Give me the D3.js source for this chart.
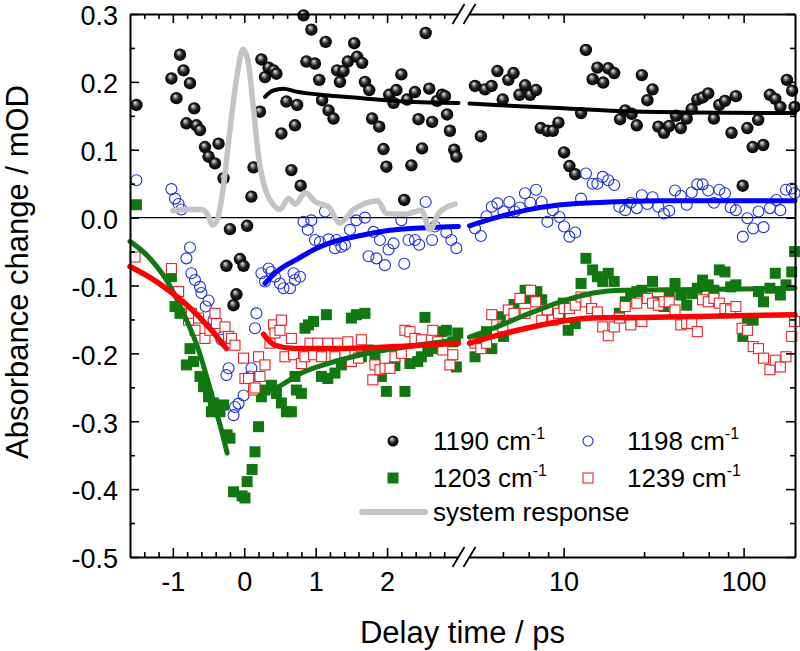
<!DOCTYPE html>
<html><head><meta charset="utf-8">
<script src="https://cdn.jsdelivr.net/npm/d3@7"></script>
<style>
body{margin:0;background:#fff}
svg{display:block}
text{font-family:"Liberation Sans",Arial,sans-serif;fill:#000}
</style>
</head><body>
<svg id="c" width="800" height="651"></svg>
<script>
// ---------- data (time in ps, absorbance change in mOD) ----------
const s1190 = [[-1.51,0.166],[-1.02,0.205],[-0.95,0.176],[-0.90,0.240],[-0.85,0.217],[-0.81,0.139],[-0.76,0.198],[-0.70,0.161],[-0.67,0.136],[-0.62,0.129],[-0.55,0.104],[-0.50,0.090],[-0.41,0.080],[-0.36,0.109],[-0.29,0.058],[-0.25,-0.071],[-0.20,-0.017],[-0.15,-0.129],[-0.11,-0.113],[-0.06,-0.061],[-0.01,-0.071],[0.04,-0.012],[0.10,0.031],[0.13,0.074],[0.22,0.156],[0.24,0.233],[0.29,0.207],[0.34,0.221],[0.41,0.217],[0.45,0.212],[0.52,0.124],[0.59,0.171],[0.66,0.070],[0.71,0.136],[0.74,0.166],[0.79,0.047],[0.83,0.298],[0.87,0.230],[0.94,0.277],[0.99,0.227],[1.05,0.203],[1.09,0.173],[1.14,0.259],[1.18,0.158],[1.25,0.146],[1.30,0.217],[1.34,0.200],[1.39,0.216],[1.45,0.230],[1.54,0.257],[1.58,0.237],[1.65,0.228],[1.69,0.200],[1.75,0.188],[1.79,0.146],[1.89,0.134],[1.95,0.101],[1.99,0.075],[2.03,0.181],[2.09,0.169],[2.13,0.188],[2.20,0.211],[2.24,0.026],[2.28,0.174],[2.34,0.077],[2.39,0.185],[2.44,0.145],[2.49,0.102],[2.54,0.272],[2.59,0.190],[2.63,0.141],[2.70,0.172],[2.77,0.181],[2.81,0.179],[2.84,0.152],[2.88,0.128],[2.94,0.100],[2.97,0.090],
[3.22,0.194],[3.47,0.120],[3.66,0.189],[3.98,0.194],[4.29,0.216],[4.59,0.174],[4.93,0.203],[5.27,0.213],[5.68,0.181],[6.11,0.195],[6.52,0.181],[7.03,0.188],[7.47,0.132],[8.13,0.128],[8.71,0.128],[9.36,0.140],[10.06,0.096],[10.77,0.076],[11.6,0.064],[12.5,0.154],[13.3,0.247],[14.5,0.204],[15.4,0.221],[16.6,0.199],[17.7,0.220],[19.1,0.213],[20.6,0.145],[22.0,0.158],[23.9,0.153],[25.5,0.136],[27.2,0.210],[29.2,0.173],[31.2,0.189],[33.6,0.134],[36.1,0.125],[38.6,0.135],[42.1,0.150],[44.8,0.132],[48.3,0.146],[51.5,0.160],[55.3,0.174],[59.2,0.177],[63.6,0.183],[68.4,0.146],[73.3,0.166],[78.8,0.172],[85.7,0.125],[90.6,0.179],[98.9,0.047],[104.9,0.132],[112.3,0.104],[120.5,0.144],[128.5,0.107],[140,0.181],[150,0.175],[160,0.163],[174,0.203],[186,0.187],[192,0.163]];

const s1198 = [[-1.51,0.055],[-1.02,0.042],[-0.97,0.028],[-0.92,0.020],[-0.88,0.012],[-0.81,-0.060],[-0.76,-0.044],[-0.74,-0.082],[-0.69,-0.092],[-0.62,-0.102],[-0.60,-0.111],[-0.54,-0.131],[-0.50,-0.122],[-0.43,-0.151],[-0.39,-0.163],[-0.32,-0.180],[-0.25,-0.232],[-0.22,-0.222],[-0.15,-0.291],[-0.13,-0.279],[-0.08,-0.274],[-0.01,-0.262],[0.08,-0.234],[0.10,-0.222],[0.15,-0.163],[0.17,-0.141],[0.24,-0.082],[0.29,-0.094],[0.34,-0.075],[0.38,-0.080],[0.43,-0.087],[0.50,-0.097],[0.55,-0.104],[0.64,-0.104],[0.69,-0.082],[0.71,-0.092],[0.78,-0.087],[0.83,-0.006],[0.89,-0.018],[0.94,-0.004],[0.99,-0.033],[1.06,-0.036],[1.13,0.009],[1.18,-0.032],[1.27,-0.045],[1.29,-0.033],[1.36,-0.043],[1.41,-0.040],[1.48,-0.018],[1.57,-0.004],[1.69,0.000],[1.74,-0.057],[1.81,-0.021],[1.85,-0.060],[1.90,-0.033],[1.97,-0.070],[2.02,-0.047],[2.09,-0.038],[2.20,-0.004],[2.24,-0.068],[2.30,-0.033],[2.39,-0.033],[2.45,-0.040],[2.54,0.023],[2.63,-0.033],[2.67,-0.013],[2.83,-0.022],[2.90,-0.033],[2.97,-0.045],
[3.22,-0.016],[3.47,-0.027],[3.73,0.002],[3.99,0.016],[4.29,0.021],[4.63,0.009],[4.99,0.023],[5.36,0.009],[5.71,0.015],[6.10,0.036],[6.52,0.022],[7.03,0.041],[7.55,0.023],[8.13,-0.006],[8.71,0.011],[9.48,0.001],[10.06,-0.013],[10.77,-0.028],[11.6,-0.022],[12.5,0.028],[13.3,0.065],[14.5,0.050],[15.4,0.050],[16.5,0.060],[17.7,0.055],[19.1,0.048],[20.4,0.016],[22.0,0.011],[23.6,0.022],[25.5,0.014],[27.2,0.033],[29.2,0.020],[31.2,0.030],[33.6,0.016],[36.1,0.006],[38.6,0.010],[41.6,0.040],[44.8,0.032],[48.3,0.019],[51.5,0.037],[55.3,0.049],[59.2,0.049],[63.6,0.040],[68.4,0.022],[73.3,0.041],[78.8,0.036],[84.7,0.015],[90.6,0.011],[99,-0.028],[105,-0.001],[113,-0.016],[121,0.009],[129,-0.014],[140,0.014],[152,0.026],[160,0.011],[172,0.041],[185,0.043],[192,0.036]];

const s1203 = [[-1.51,0.019],[-1.02,-0.087],[-0.97,-0.131],[-0.92,-0.109],[-0.90,-0.141],[-0.81,-0.217],[-0.76,-0.193],[-0.71,-0.212],[-0.62,-0.234],[-0.57,-0.249],[-0.50,-0.264],[-0.46,-0.286],[-0.43,-0.273],[-0.36,-0.279],[-0.34,-0.286],[-0.29,-0.276],[-0.24,-0.320],[-0.20,-0.325],[-0.15,-0.404],[-0.03,-0.410],[0.01,-0.413],[0.04,-0.389],[0.11,-0.371],[0.15,-0.345],[0.20,-0.308],[0.24,-0.264],[0.29,-0.254],[0.38,-0.247],[0.45,-0.259],[0.52,-0.273],[0.59,-0.286],[0.66,-0.286],[0.71,-0.234],[0.73,-0.254],[0.80,-0.259],[0.85,-0.163],[0.90,-0.158],[0.97,-0.153],[1.08,-0.234],[1.15,-0.143],[1.17,-0.237],[1.27,-0.229],[1.36,-0.217],[1.41,-0.212],[1.50,-0.148],[1.57,-0.143],[1.64,-0.205],[1.69,-0.141],[1.73,-0.195],[1.83,-0.205],[1.92,-0.234],[1.99,-0.256],[2.11,-0.218],[2.25,-0.256],[2.32,-0.215],[2.43,-0.212],[2.48,-0.205],[2.53,-0.147],[2.57,-0.197],[2.64,-0.193],[2.76,-0.168],[2.83,-0.166],[2.92,-0.183],[2.97,-0.220],[2.99,-0.170],
[3.22,-0.205],[3.45,-0.180],[3.73,-0.168],[3.99,-0.193],[4.45,-0.146],[4.64,-0.175],[5.3,-0.128],[6.11,-0.107],[6.5,-0.119],[7.1,-0.109],[7.56,-0.121],[8.1,-0.146],[9.56,-0.143],[9.97,-0.126],[10.6,-0.166],[11.6,-0.156],[12.5,-0.097],[13.3,-0.060],[14.5,-0.077],[15.4,-0.087],[16.5,-0.094],[17.7,-0.082],[19.1,-0.094],[20.4,-0.141],[22.0,-0.124],[23.6,-0.114],[25.5,-0.109],[27.2,-0.107],[31.2,-0.094],[33.6,-0.124],[36.1,-0.131],[38.6,-0.112],[41.6,-0.097],[44.8,-0.114],[48.3,-0.129],[51.5,-0.112],[55.3,-0.104],[59.2,-0.092],[63.6,-0.099],[68.4,-0.107],[73.3,-0.077],[78.8,-0.080],[84.7,-0.102],[90.6,-0.099],[99,-0.175],[105,-0.153],[113,-0.151],[121,-0.109],[129,-0.124],[140,-0.104],[150,-0.082],[160,-0.114],[172,-0.099],[185,-0.080],[192,-0.050]];

const s1239 = [[-1.53,-0.058],[-1.02,-0.075],[-0.92,-0.109],[-0.78,-0.151],[-0.74,-0.141],[-0.69,-0.166],[-0.64,-0.148],[-0.55,-0.178],[-0.48,-0.166],[-0.41,-0.141],[-0.39,-0.156],[-0.27,-0.161],[-0.22,-0.175],[-0.18,-0.178],[-0.13,-0.188],[-0.01,-0.207],[0.01,-0.237],[0.06,-0.237],[0.13,-0.254],[0.15,-0.251],[0.20,-0.205],[0.22,-0.234],[0.29,-0.217],[0.36,-0.185],[0.41,-0.158],[0.43,-0.170],[0.50,-0.166],[0.52,-0.151],[0.57,-0.205],[0.66,-0.178],[0.69,-0.202],[0.80,-0.215],[0.85,-0.205],[0.92,-0.185],[0.97,-0.202],[1.03,-0.185],[1.08,-0.205],[1.17,-0.185],[1.27,-0.205],[1.31,-0.185],[1.41,-0.202],[1.45,-0.183],[1.50,-0.212],[1.60,-0.207],[1.64,-0.180],[1.80,-0.239],[1.83,-0.217],[1.90,-0.224],[1.97,-0.222],[2.04,-0.222],[2.11,-0.205],[2.20,-0.200],[2.25,-0.166],[2.32,-0.168],[2.39,-0.178],[2.48,-0.180],[2.64,-0.166],[2.71,-0.183],[2.78,-0.195],[2.88,-0.217],[2.92,-0.202],
[3.22,-0.185],[3.47,-0.193],[3.73,-0.185],[3.99,-0.143],[4.25,-0.158],[4.59,-0.161],[4.93,-0.136],[5.3,-0.141],[5.72,-0.119],[6.11,-0.141],[6.55,-0.107],[7.0,-0.124],[7.56,-0.151],[8.13,-0.136],[8.71,-0.151],[9.36,-0.141],[10.06,-0.134],[10.77,-0.134],[11.6,-0.129],[12.5,-0.117],[13.3,-0.124],[14.3,-0.134],[15.4,-0.139],[16.5,-0.161],[17.7,-0.174],[19.1,-0.161],[20.4,-0.148],[22.0,-0.131],[23.6,-0.158],[25.5,-0.126],[27.2,-0.153],[29.2,-0.119],[31.2,-0.126],[33.6,-0.129],[36.1,-0.124],[38.6,-0.124],[41.6,-0.136],[44.8,-0.158],[48.3,-0.156],[51.5,-0.156],[55.3,-0.168],[59.2,-0.121],[63.6,-0.124],[68.4,-0.119],[73.3,-0.126],[78.8,-0.134],[84.7,-0.136],[90.6,-0.131],[98,-0.163],[105,-0.166],[113,-0.190],[121,-0.193],[129,-0.207],[140,-0.224],[150,-0.210],[160,-0.220],[172,-0.205],[185,-0.175],[192,-0.153]];

// fitted curves (linear-time part and log-time part)
const fit1190Lin = [[0.29,0.178],[0.40,0.187],[0.55,0.190],[0.71,0.186],[1.18,0.180],[1.65,0.176],[2.11,0.172],[3.0,0.169]];
const fit1190Log = [[3,0.168],[5,0.165],[10,0.161],[20,0.157],[50,0.155],[193,0.154]];
const fit1198Lin = [[0.29,-0.097],[0.45,-0.080],[0.57,-0.071],[0.71,-0.063],[1.0,-0.046],[1.18,-0.038],[1.65,-0.026],[2.11,-0.018],[3.0,-0.013]];
const fit1198Log = [[3,-0.012],[4.07,-0.001],[6.2,0.011],[9.6,0.019],[18,0.023],[34,0.025],[193,0.025]];
const fit1203Pre = [[-1.6,-0.035],[-1.34,-0.058],[-1.06,-0.097],[-0.83,-0.146],[-0.64,-0.195],[-0.50,-0.244],[-0.41,-0.279],[-0.32,-0.313],[-0.24,-0.347]];
const fit1203Lin = [[0.22,-0.262],[0.48,-0.249],[0.80,-0.229],[1.17,-0.215],[1.64,-0.202],[2.11,-0.193],[3.0,-0.180]];
const fit1203Log = [[3,-0.176],[4.07,-0.163],[6.2,-0.143],[9.6,-0.124],[14.6,-0.111],[22,-0.107],[52.6,-0.106],[193,-0.104]];
const fit1239Pre = [[-1.6,-0.072],[-1.34,-0.087],[-1.06,-0.107],[-0.78,-0.131],[-0.50,-0.161],[-0.25,-0.193]];
const fit1239Lin = [[0.27,-0.172],[0.43,-0.188],[0.71,-0.193],[1.17,-0.193],[2.11,-0.190],[3.0,-0.185]];
const fit1239Log = [[3,-0.185],[4.07,-0.175],[6.2,-0.163],[9.6,-0.153],[14.6,-0.148],[27,-0.147],[193,-0.143]];
const sysResp = [[-1.0,0.010],[-0.8,0.012],[-0.6,0.012],[-0.5,0.002],[-0.45,-0.011],[-0.38,-0.004],[-0.3,0.040],[-0.2,0.130],[-0.1,0.210],[-0.02,0.248],[0.05,0.232],[0.12,0.170],[0.2,0.090],[0.3,0.040],[0.4,0.020],[0.5,0.012],[0.62,0.028],[0.72,0.020],[0.85,0.037],[1.0,0.023],[1.18,0.016],[1.34,-0.008],[1.52,0.011],[1.69,0.021],[1.87,0.025],[1.99,0.006],[2.25,0.005],[2.48,0.011],[2.6,-0.018],[2.72,0.006],[2.95,0.020]];

// axis ticks
const xMajorLin = [-1,0,1,2];
const xMinorLin = [-1.4,-1.2,-0.8,-0.6,-0.4,-0.2,0.2,0.4,0.6,0.8,1.2,1.4,1.6,1.8,2.2,2.4,2.6,2.8];
const xMajorLog = [10,100];
const xMinorLog = [4.6,6.4,8.2,28,46,64,82];
const yMajor = [-0.5,-0.4,-0.3,-0.2,-0.1,0,0.1,0.2,0.3];
const yMinor = [-0.45,-0.35,-0.25,-0.15,-0.05,0.05,0.15,0.25];
const legendLabels = ["1190","1198","1203","1239","system response"];

// ---------- scales ----------
const L = 130, R = 795, T = 14, B = 557;
const xLin = d3.scaleLinear().domain([-1.6,3]).range([L,458.5]);
const xLog = d3.scaleLog().domain([3,193]).range([469.5,R]);
const y = d3.scaleLinear().domain([-0.5,0.3]).range([B,T]);
const X = t => t <= 3 ? xLin(t) : xLog(t);

const svg = d3.select("#c");
const defs = svg.append("defs");
const g1 = defs.append("radialGradient").attr("id","ball").attr("cx","0.5").attr("cy","0.5").attr("r","0.5").attr("fx","0.38").attr("fy","0.3");
g1.append("stop").attr("offset","0%").attr("stop-color","#f4f4f4");
g1.append("stop").attr("offset","22%").attr("stop-color","#9a9a9a");
g1.append("stop").attr("offset","55%").attr("stop-color","#222");
g1.append("stop").attr("offset","100%").attr("stop-color","#000");

const GREEN = "#117811", BLUE = "#1f2fd6", RED = "#e8232a", GREY = "#c4c4c4";

// zero line
svg.append("line").attr("x1",L).attr("x2",R).attr("y1",y(0)).attr("y2",y(0)).attr("stroke","#000").attr("stroke-width",1.2);

// ---------- scatter ----------
svg.append("g").selectAll("circle").data(s1190).join("circle")
  .attr("cx",d=>X(d[0])).attr("cy",d=>y(d[1])).attr("r",6.2).attr("fill","url(#ball)");
svg.append("g").selectAll("circle").data(s1198).join("circle")
  .attr("cx",d=>X(d[0])).attr("cy",d=>y(d[1])).attr("r",5.5).attr("fill","none").attr("stroke",BLUE).attr("stroke-width",1.1);
svg.append("g").selectAll("rect").data(s1203).join("rect")
  .attr("x",d=>X(d[0])-5.5).attr("y",d=>y(d[1])-5.5).attr("width",11).attr("height",11).attr("fill",GREEN);
svg.append("g").selectAll("rect").data(s1239).join("rect")
  .attr("x",d=>X(d[0])-5).attr("y",d=>y(d[1])-5).attr("width",10).attr("height",10).attr("fill","#fff").attr("stroke",RED).attr("stroke-width",1.1);

// ---------- fits ----------
const lineLin = d3.line().x(d=>xLin(d[0])).y(d=>y(d[1])).curve(d3.curveMonotoneX);
const lineLog = d3.line().x(d=>xLog(d[0])).y(d=>y(d[1])).curve(d3.curveMonotoneX);
function fit(data, gen, color, w){
  svg.append("path").attr("d",gen(data)).attr("fill","none").attr("stroke",color).attr("stroke-width",w).attr("stroke-linecap","round").attr("stroke-linejoin","round");
}
fit(fit1190Lin,lineLin,"#000",4); fit(fit1190Log,lineLog,"#000",4);
fit(fit1198Lin,lineLin,"#0000ff",5); fit(fit1198Log,lineLog,"#0000ff",5);
fit(fit1203Pre,lineLin,GREEN,5); fit(fit1203Lin,lineLin,GREEN,5); fit(fit1203Log,lineLog,GREEN,5);
fit(fit1239Pre,lineLin,"#ff0000",5.5); fit(fit1239Lin,lineLin,"#ff0000",5.5); fit(fit1239Log,lineLog,"#ff0000",5.5);
fit(sysResp,lineLin,GREY,5.5);

// ---------- axes ----------
function styleAxis(g, showDomain){
  g.selectAll(".tick line").attr("stroke","#000").attr("stroke-width",1.6);
  g.select(".domain").attr("stroke", showDomain ? "#000" : "none").attr("stroke-width",2);
  g.selectAll("text").style("font-size","27px").attr("fill","#000");
  g.attr("font-family",null).attr("font-size",null);
}
function xAxes(gen, yPos, labels){
  let a = svg.append("g").attr("transform",`translate(0,${yPos})`)
    .call(gen(xLin).tickValues(xMajorLin).tickSize(-9).tickSizeOuter(0).tickPadding(15).tickFormat(labels ? d=>String(d) : ""));
  styleAxis(a,true);
  a = svg.append("g").attr("transform",`translate(0,${yPos})`)
    .call(gen(xLin).tickValues(xMinorLin).tickSize(-5).tickSizeOuter(0).tickFormat(""));
  styleAxis(a,false);
  a = svg.append("g").attr("transform",`translate(0,${yPos})`)
    .call(gen(xLog).tickValues(xMajorLog).tickSize(-9).tickSizeOuter(0).tickPadding(15).tickFormat(labels ? d=>String(d) : ""));
  styleAxis(a,true);
  a = svg.append("g").attr("transform",`translate(0,${yPos})`)
    .call(gen(xLog).tickValues(xMinorLog).tickSize(-5).tickSizeOuter(0).tickFormat(""));
  styleAxis(a,false);
  // break marks
  [xLin.range()[1], xLog.range()[0]].forEach(xb=>{
    svg.append("line").attr("x1",xb-6).attr("y1",yPos+10).attr("x2",xb+6).attr("y2",yPos-10)
      .attr("stroke","#000").attr("stroke-width",1.8);
  });
}
xAxes(d3.axisBottom, B, true);
xAxes(d3.axisTop, T, false);

function yAxes(gen, xPos, labels){
  let a = svg.append("g").attr("transform",`translate(${xPos},0)`)
    .call(gen(y).tickValues(yMajor).tickSize(-9).tickSizeOuter(0).tickPadding(12).tickFormat(labels ? d=>d.toFixed(1) : ""));
  styleAxis(a,true);
  a.selectAll("text").attr("dy","0.4em");
  a = svg.append("g").attr("transform",`translate(${xPos},0)`)
    .call(gen(y).tickValues(yMinor).tickSize(-5).tickSizeOuter(0).tickFormat(""));
  styleAxis(a,false);
}
yAxes(d3.axisLeft, L, true);
yAxes(d3.axisRight, R, false);

// axis titles
svg.append("text").attr("x",462.5).attr("y",643).attr("text-anchor","middle").style("font-size","31px").text("Delay time / ps");
svg.append("text").attr("transform","translate(28,272) rotate(-90)").attr("text-anchor","middle").style("font-size","31px").text("Absorbance change / mOD");

// ---------- legend ----------
const lg = svg.append("g");
function legText(x, yb, num){
  const t = lg.append("text").attr("x",x).attr("y",yb).style("font-size","26px");
  t.append("tspan").text(num + " cm");
  t.append("tspan").attr("dy",-11).style("font-size","16px").text("-1");
}
lg.append("circle").attr("cx",393).attr("cy",441).attr("r",5.5).attr("fill","url(#ball)");
legText(433,450,legendLabels[0]);
lg.append("circle").attr("cx",588).attr("cy",441).attr("r",5).attr("fill","none").attr("stroke",BLUE).attr("stroke-width",1.1);
legText(627,450,legendLabels[1]);
lg.append("rect").attr("x",387.5).attr("y",472.5).attr("width",11).attr("height",11).attr("fill",GREEN);
legText(433,487,legendLabels[2]);
lg.append("rect").attr("x",583).attr("y",473).attr("width",10).attr("height",10).attr("fill","#fff").attr("stroke",RED).attr("stroke-width",1.1);
legText(627,487,legendLabels[3]);
lg.append("line").attr("x1",362).attr("x2",425).attr("y1",512).attr("y2",512).attr("stroke",GREY).attr("stroke-width",6).attr("stroke-linecap","round");
lg.append("text").attr("x",433).attr("y",521).style("font-size","26px").text(legendLabels[4]);
</script>
</body></html>
